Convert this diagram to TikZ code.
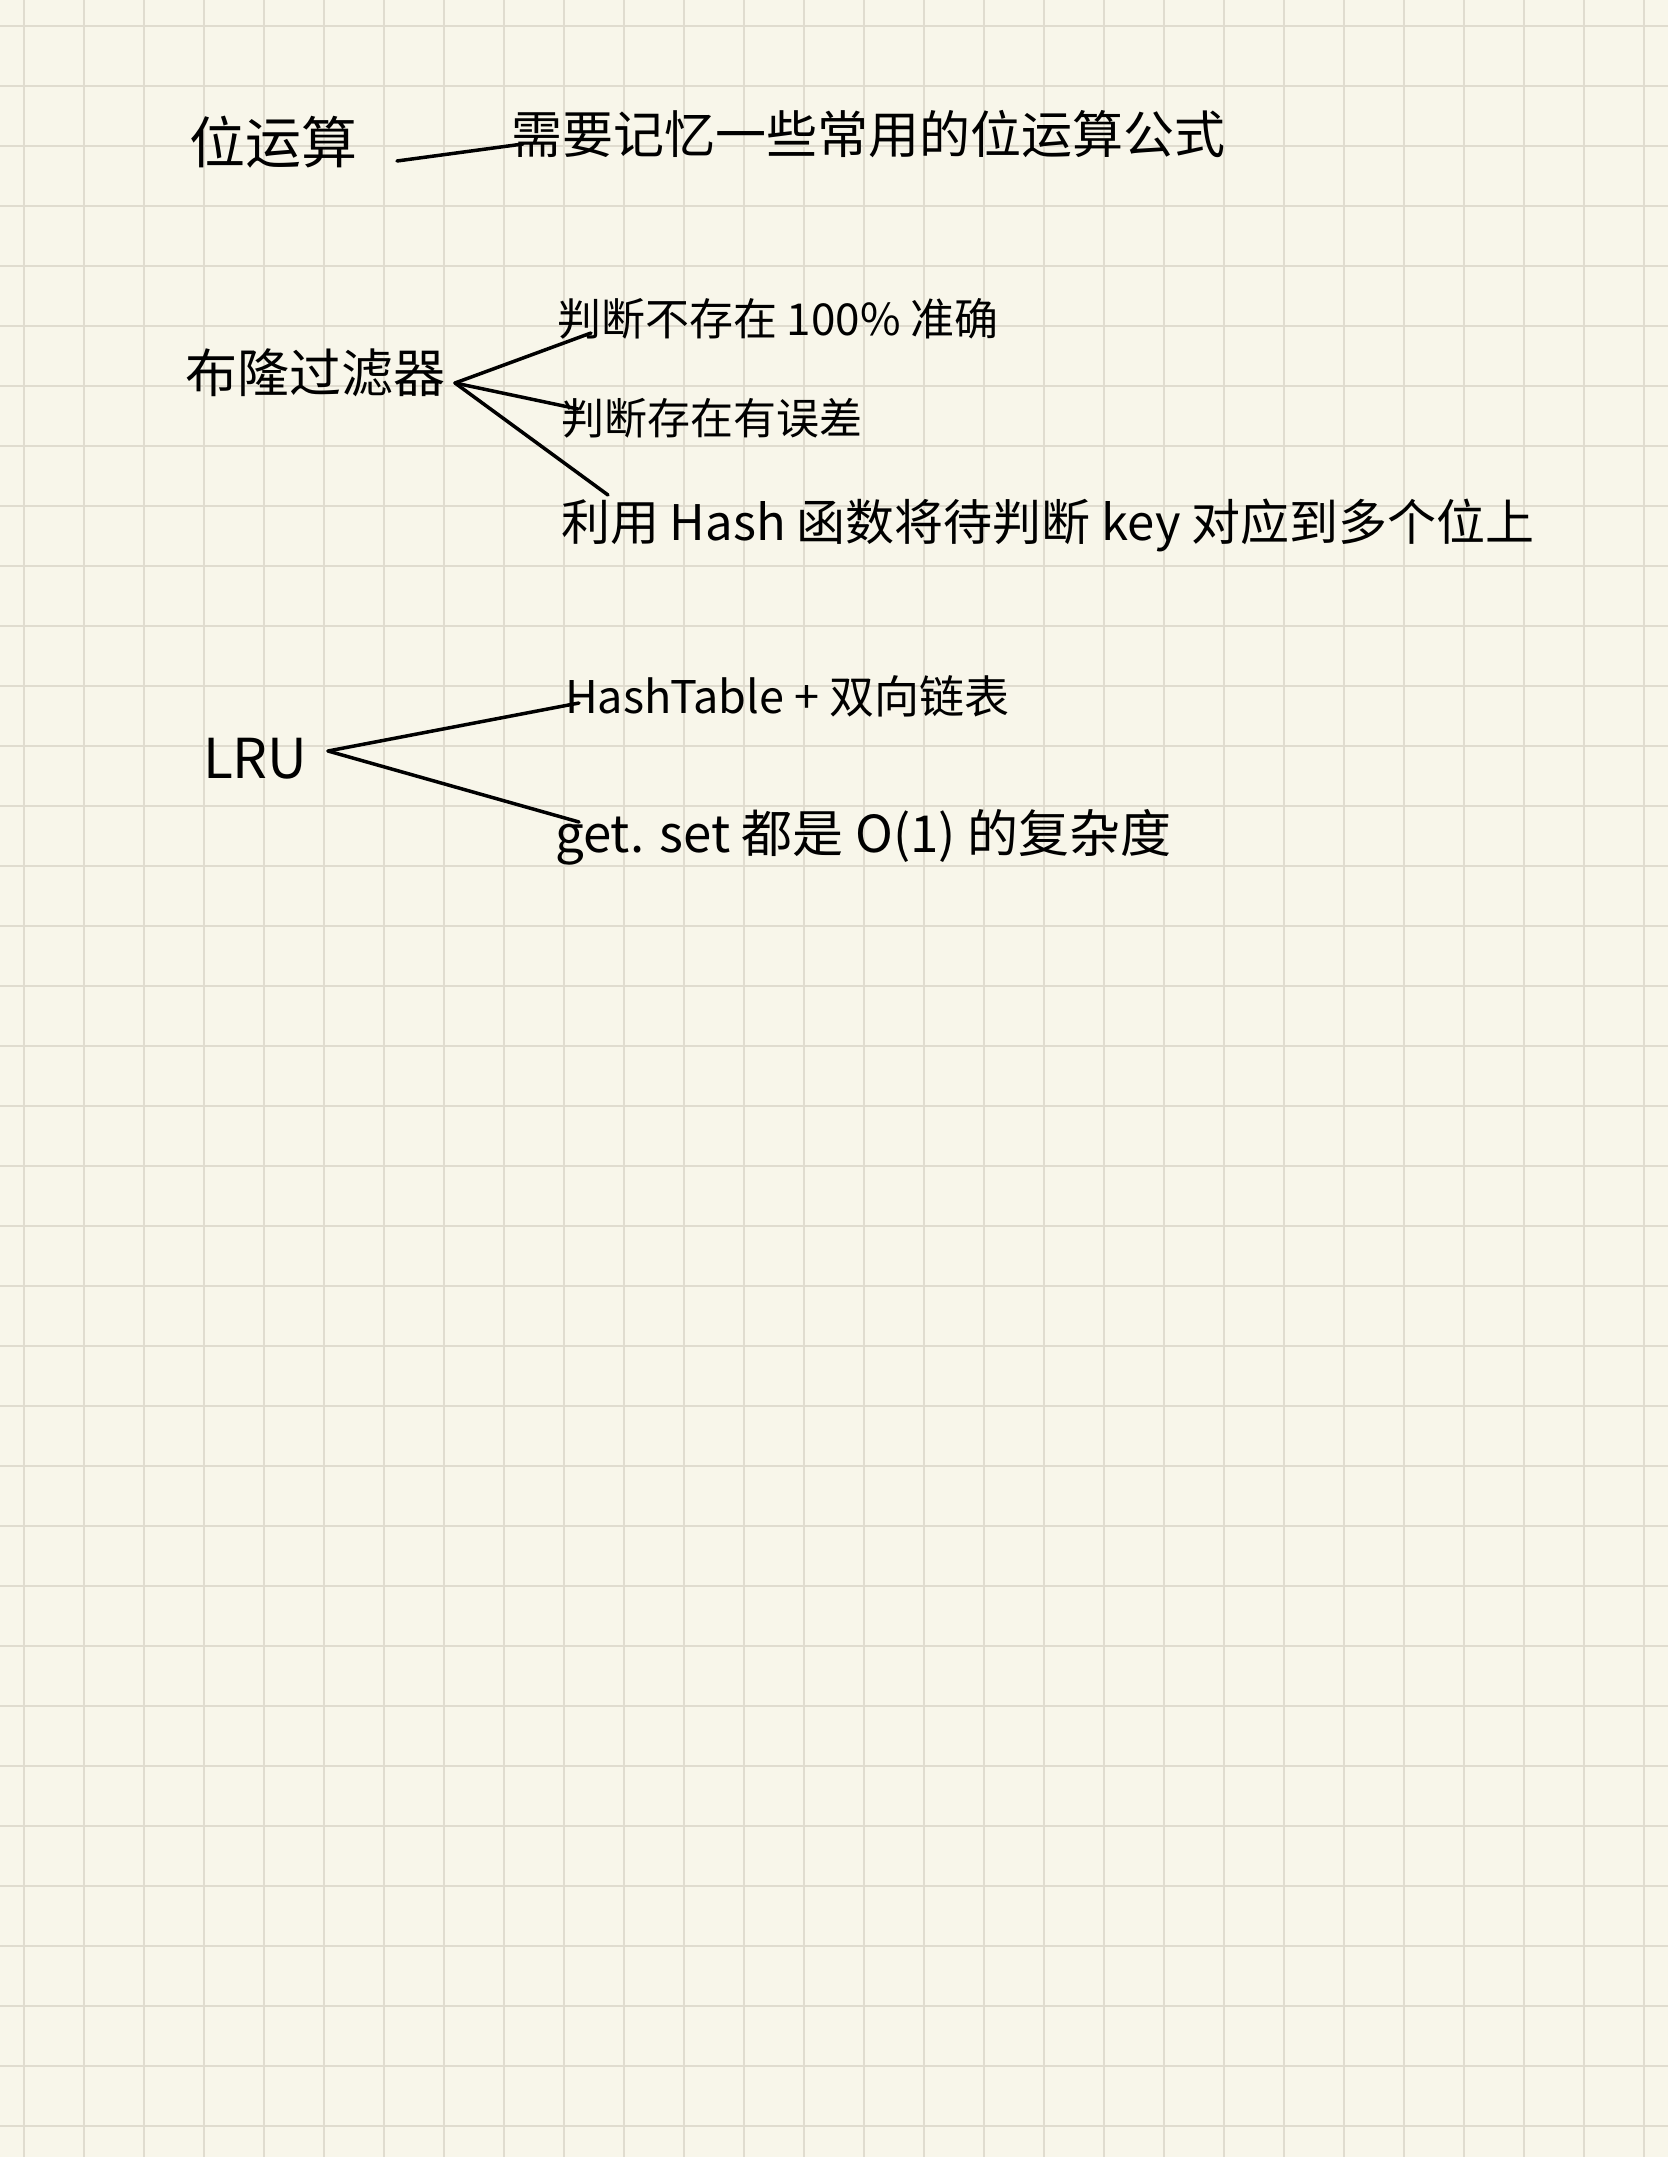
\documentclass[tikz,border=0pt]{standalone}
\usepackage{fontspec}
\newfontfamily\cjk{Noto Sans CJK SC}
\newcommand\fsz[1]{\cjk\fontsize{#1}{#1}\selectfont}
\definecolor{paper}{RGB}{248,246,234}
\definecolor{gridc}{RGB}{224,220,207}
\begin{document}
\begin{tikzpicture}[x=1pt,y=-1pt,
  ink/.style={line width=3.5pt,line cap=round,draw=black},
  note/.style={anchor=base west,inner sep=0pt,outer sep=0pt,text=black},
  gridline/.style={draw=gridc,line width=2pt}]
\fill[paper] (0,0) rectangle (1668,2157);
\useasboundingbox (0,0) rectangle (1668,2157);
\foreach \i in {0,...,27} \draw[gridline] (24+60*\i,0) -- (24+60*\i,2157);
\foreach \j in {0,...,35} \draw[gridline] (0,26+60*\j) -- (1668,26+60*\j);
% section 1
\node[note,font=\fsz{56}] (wys) at (189,163) {位运算};
\node[note,font=\fsz{51}] (wysd) at (511,153) {需要记忆一些常用的位运算公式};
\coordinate (wysa) at (397,161);
\coordinate (wysb) at (523,144);
\draw[ink] (wysa) -- (wysb);
% section 2
\node[note,font=\fsz{52}] (bloom) at (185,392) {布隆过滤器};
\node[note,font=\fsz{44}] (b1) at (557,335) {判断不存在 100\% 准确};
\node[note,font=\fsz{43}] (b2) at (561,434) {判断存在有误差};
\node[note,font=\fsz{49}] (b3) at (561,540) {利用 Hash 函数将待判断 key 对应到多个位上};
\coordinate (bfork) at (455,383);
\coordinate (b1e) at (591,333);
\coordinate (b2e) at (578,409);
\coordinate (b3e) at (608,495);
\draw[ink] (bfork) -- (b1e);
\draw[ink] (bfork) -- (b2e);
\draw[ink] (bfork) -- (b3e);
% section 3
\node[note,font=\fsz{55}] (lru) at (203,778) {LRU};
\node[note,font=\fsz{45}] (l1) at (565,713) {HashTable + 双向链表};
\node[note,font=\fsz{51}] (l2) at (555,852) {get. set 都是 O(1) 的复杂度};
\coordinate (lfork) at (328,751);
\coordinate (l1e) at (579,703);
\coordinate (l2e) at (579,822);
\draw[ink] (lfork) -- (l1e);
\draw[ink] (lfork) -- (l2e);
\end{tikzpicture}
\end{document}
